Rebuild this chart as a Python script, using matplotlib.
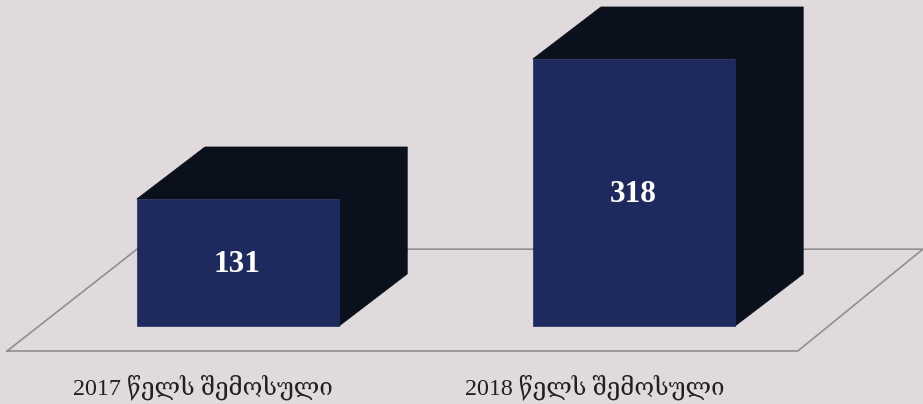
import matplotlib
matplotlib.use('Agg')
import matplotlib.pyplot as plt
from matplotlib.patches import Polygon

# Chart data
categories = ['2017 წელს შემოსული', '2018 წელს შემოსული']
values = [131, 318]

# Colours
bg_color = '#e0dadc'
front_color = '#1e2a5d'
dark_color = '#0b111c'
floor_color = '#8f8f8f'

# Axis set up so the baseline and depth match the 3D look
base = -38.6
bar_width = 0.511
depth_x = 0.172
depth_y = 69.5

fig = plt.figure(figsize=(9.23, 4.04), dpi=100, facecolor=bg_color)
ax = fig.add_axes([0, 0, 1, 1])
ax.set_xlim(-0.601, 1.730)
ax.set_ylim(-142.8, 396.8)
ax.axis('off')

# Floor of the 3D plot
floor_left = -0.583
floor_right = 1.414
floor_front = base - 33.4
ax.plot([floor_left, floor_right, floor_right + 0.3157, floor_left + 0.328, floor_left],
        [floor_front, floor_front, floor_front + 136, floor_front + 136, floor_front],
        color=floor_color, lw=1.2, zorder=1, clip_on=False)

# Bars
for i, v in enumerate(values):
    x0 = i - bar_width / 2
    x1 = i + bar_width / 2
    ax.add_patch(Polygon([(x0, v), (x1, v), (x1 + depth_x, v + depth_y), (x0 + depth_x, v + depth_y)],
                         facecolor=dark_color, edgecolor=dark_color, lw=0.5, zorder=2))
    ax.add_patch(Polygon([(x1, base), (x1, v), (x1 + depth_x, v + depth_y), (x1 + depth_x, base + depth_y)],
                         facecolor=dark_color, edgecolor=dark_color, lw=0.5, zorder=2))
    ax.add_patch(Polygon([(x0, base), (x1, base), (x1, v), (x0, v)],
                         facecolor=front_color, edgecolor=front_color, lw=0.5, zorder=3))
    ax.text(i - 0.003, (v + base) / 2 - 3, str(v), color='white', fontsize=22.5, fontweight='bold',
            family='Liberation Serif', ha='center', va='center', zorder=4)

# Category labels
label_x = [-0.088, 0.902]
for x, label in zip(label_x, categories):
    ax.text(x, -120, label, color='#231f20', fontsize=17.3, family=['Liberation Serif', 'DejaVu Serif'],
            ha='center', va='center')

fig.savefig('out.png', dpi=100, facecolor=bg_color)
